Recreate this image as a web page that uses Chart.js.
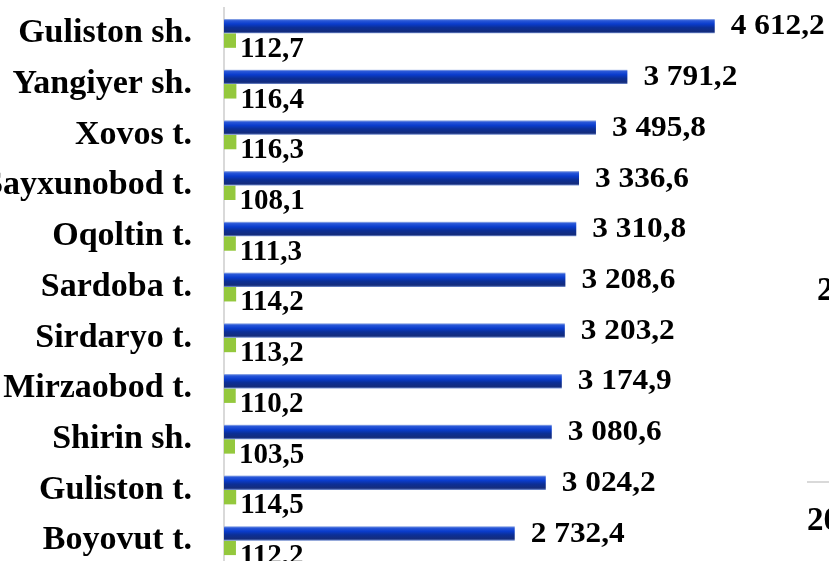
<!DOCTYPE html>
<html>
<head>
<meta charset="utf-8">
<script src="https://cdn.jsdelivr.net/npm/chart.js@4"></script>
<style>
  html, body { margin: 0; padding: 0; background: #fff; overflow: hidden; }
  #wrap { position: relative; width: 829px; height: 561px; overflow: hidden; }
</style>
</head>
<body>
<div id="wrap"><canvas id="chart" width="829" height="568"></canvas></div>
<script>
// Chart data
const categories = ["Guliston sh.", "Yangiyer sh.", "Xovos t.", "Sayxunobod t.", "Oqoltin t.", "Sardoba t.", "Sirdaryo t.", "Mirzaobod t.", "Shirin sh.", "Guliston t.", "Boyovut t."];
const volumeValues = [4612.2, 3791.2, 3495.8, 3336.6, 3310.8, 3208.6, 3203.2, 3174.9, 3080.6, 3024.2, 2732.4];
const growthValues = [112.7, 116.4, 116.3, 108.1, 111.3, 114.2, 113.2, 110.2, 103.5, 114.5, 112.2];
const legendStubs = ["2", "20"];

const FONT = "'Liberation Serif', 'Times New Roman', serif";

// "4612.2" -> "4 612,2"
function fmt(v) {
  const parts = v.toFixed(1).split(".");
  parts[0] = parts[0].replace(/\B(?=(\d{3})+(?!\d))/g, " ");
  return parts.join(",");
}

// Bevelled blue fill, one gradient per bar
function blueFill(ctx) {
  const chart = ctx.chart;
  const y = chart.scales.y;
  if (!y || ctx.dataIndex === undefined) return "#0b3fc8";
  const center = y.getPixelForValue(ctx.dataIndex);
  const band = Math.abs(y.getPixelForValue(1) - y.getPixelForValue(0));
  if (!isFinite(center) || !isFinite(band) || band === 0) return "#0b3fc8";
  const h = band * 0.57 / 2;
  const g = chart.ctx.createLinearGradient(0, center - h, 0, center);
  g.addColorStop(0, "#a9bce8");
  g.addColorStop(0.12, "#2a58d8");
  g.addColorStop(0.35, "#0a3ccc");
  g.addColorStop(0.6, "#0c2f96");
  g.addColorStop(0.88, "#142c7c");
  g.addColorStop(1, "#7d97d6");
  return g;
}

// draw text a little wider than the font, like the source picture
function wideText(ctx, text, x, y, sx) {
  ctx.save();
  ctx.translate(x, y);
  ctx.scale(sx, 1);
  ctx.fillText(text, 0, 0);
  ctx.restore();
}

// Value labels next to the bar ends + clipped legend text at the right edge
const labelPlugin = {
  id: "valueLabels",
  afterDatasetsDraw(chart) {
    const ctx = chart.ctx;
    ctx.save();
    ctx.fillStyle = "#000";
    ctx.textAlign = "left";
    ctx.textBaseline = "alphabetic";
    ctx.font = "bold 29px " + FONT;
    chart.getDatasetMeta(0).data.forEach((bar, i) => {
      wideText(ctx, fmt(volumeValues[i]), bar.x + 16, bar.y + bar.height / 2 + 1, 1.08);
    });
    chart.getDatasetMeta(1).data.forEach((bar, i) => {
      ctx.fillText(fmt(growthValues[i]), bar.x + 4, bar.y + bar.height / 2 + 9);
    });

    // legend remnants cut by the frame
    ctx.font = "bold 33px " + FONT;
    ctx.fillText(legendStubs[0], 817, 300);
    ctx.fillText(legendStubs[1], 807, 530);
    ctx.strokeStyle = "#d9d9d9";
    ctx.lineWidth = 2;
    ctx.beginPath();
    ctx.moveTo(807, 482);
    ctx.lineTo(829, 482);
    ctx.stroke();
    ctx.restore();
  },
};

new Chart(document.getElementById("chart"), {
  type: "bar",
  data: {
    labels: categories,
    datasets: [
      {
        label: "Hajm",
        data: volumeValues,
        backgroundColor: blueFill,
        borderWidth: 0,
      },
      {
        label: "O'sish sur'ati, %",
        data: growthValues,
        backgroundColor: "#94c83d",
        borderWidth: 0,
      },
    ],
  },
  options: {
    indexAxis: "y",
    responsive: false,
    animation: false,
    categoryPercentage: 0.57,
    barPercentage: 1.0,
    layout: { padding: { top: 8, right: 73, bottom: 2, left: 0 } },
    plugins: {
      legend: { display: false },
      tooltip: { enabled: false },
    },
    scales: {
      x: {
        display: false,
        min: 0,
        max: 5000,
      },
      y: {
        afterFit(scale) {
          scale.width = 224;
          scale.paddingTop = 0;
          scale.paddingBottom = 0;
        },
        grid: { display: false, drawTicks: false },
        border: { display: true, color: "#d9d9d9", width: 2 },
        ticks: {
          color: "#000",
          padding: 32,
          font: { family: FONT, size: 34, weight: "bold" },
        },
      },
    },
  },
  plugins: [labelPlugin],
});
</script>
</body>
</html>
